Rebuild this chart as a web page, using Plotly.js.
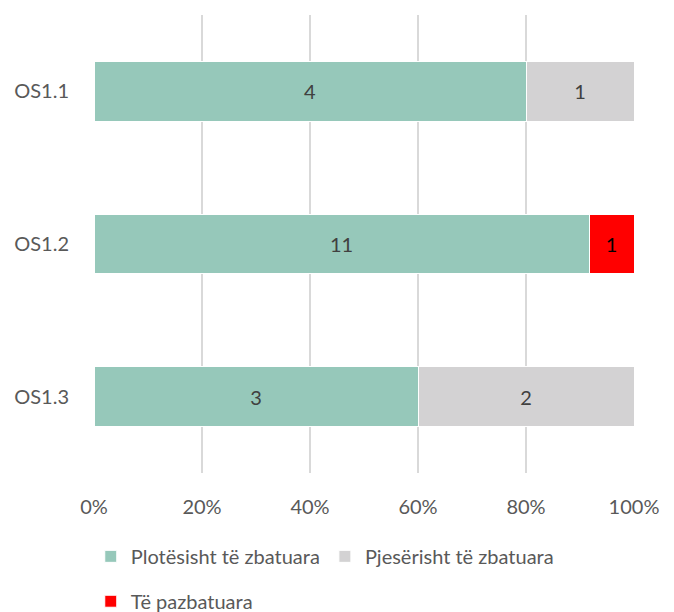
<!DOCTYPE html>
<html><head><meta charset="utf-8">
<script src="https://cdn.plot.ly/plotly-3.0.1.min.js"></script>
<style>html,body{margin:0;padding:0;background:#fff}</style>
</head><body><div id="chart" style="width:674px;height:612px"></div>
<script>
const categories = ['OS1.1', 'OS1.2', 'OS1.3'];
const fullyImpl = [4, 11, 3];
const partlyImpl = [1, 0, 2];
const notImpl = [0, 1, 0];
const seriesNames = ['Plotësisht të zbatuara', 'Pjesërisht të zbatuara', 'Të pazbatuara'];
const tickVals = [0, 20, 40, 60, 80, 100];
const tickLabels = ['0%', '20%', '40%', '60%', '80%', '100%'];

const FONT = 'Lato, "Open Sans", sans-serif';
const lbl = v => v.map(x => x ? String(x) : '');
function tr(vals, name, color, legend, txtColor) {
  return {
    type: 'bar', orientation: 'h', y: categories, x: vals, name: name,
    marker: {color: color, line: {color: '#ffffff', width: 1}},
    text: lbl(vals), textposition: 'inside', insidetextanchor: 'middle',
    textfont: {family: FONT, size: 20, color: txtColor},
    hoverinfo: 'none', legend: legend
  };
}
const data = [
  tr(fullyImpl, seriesNames[0], '#96C8BA', 'legend', '#404040'),
  tr(partlyImpl, seriesNames[1], '#D3D2D3', 'legend', '#404040'),
  tr(notImpl, seriesNames[2], '#FF0000', 'legend2', '#000000')
];
const legendCommon = {orientation: 'h', xanchor: 'left', yanchor: 'middle',
  font: {family: FONT, size: 20, color: '#595959'}, bgcolor: 'rgba(0,0,0,0)', traceorder: 'normal'};
const layout = {
  width: 674, height: 612,
  margin: {l: 94, r: 40, t: 14.5, b: 138.5, autoexpand: false},
  barmode: 'stack', barnorm: 'percent', bargap: 0.61,
  paper_bgcolor: '#ffffff', plot_bgcolor: '#ffffff',
  font: {family: FONT, color: '#595959'},
  showlegend: true,
  xaxis: {range: [0, 100], tickvals: tickVals, ticktext: tickLabels,
    showgrid: true, gridcolor: '#D9D9D9', gridwidth: 2, zeroline: false,
    ticks: '', ticklabelstandoff: 20, tickfont: {family: FONT, size: 20, color: '#595959'},
    showline: false, fixedrange: true},
  yaxis: {autorange: 'reversed', ticks: '', showline: false, showgrid: false,
    ticklabelstandoff: 24, tickfont: {family: FONT, size: 20, color: '#595959'}},
  legend: Object.assign({x: -0.006, y: -0.182}, legendCommon),
  legend2: Object.assign({x: -0.006, y: -0.28}, legendCommon)
};
Plotly.newPlot('chart', data, layout, {displayModeBar: false, staticPlot: true});
</script></body></html>
